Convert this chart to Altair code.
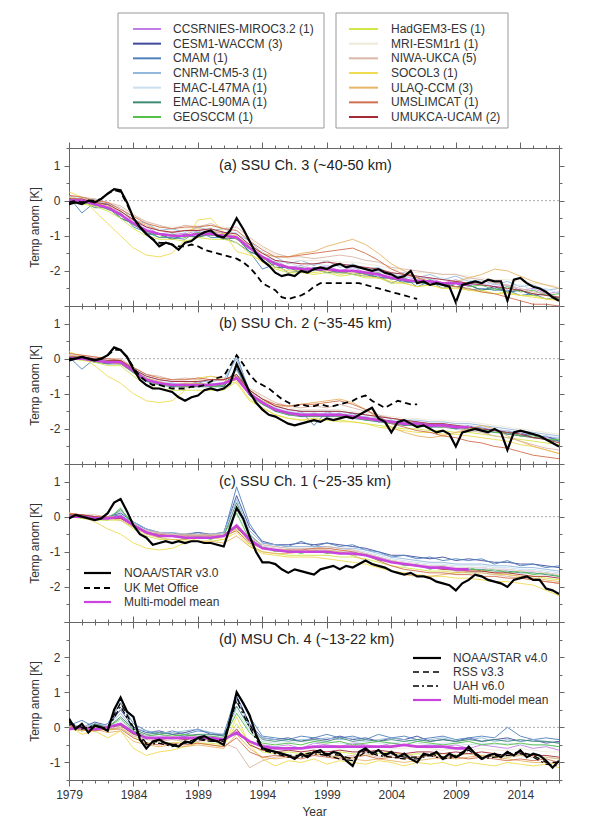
import altair as alt
import pandas as pd

FONT = "Liberation Sans"
AX = "#666666"
TXT = "#333333"

YEARS = list(range(1979, 2018))                 # annual model values
HALF = [1979 + 0.5 * i for i in range(77)]      # semiannual observations 1979.0-2017.0
HALF_UK = HALF[:55]                              # UK Met Office ends 2006
MMM_YEARS = list(range(1979, 2011))              # multi-model mean ends 2010

MODELS = ["CCSRNIES-MIROC3.2", "CESM1-WACCM", "CMAM", "CNRM-CM5-3", "EMAC-L47MA",
          "EMAC-L90MA", "GEOSCCM", "HadGEM3-ES", "MRI-ESM1r1", "NIWA-UKCA",
          "SOCOL3", "ULAQ-CCM", "UMSLIMCAT", "UMUKCA-UCAM"]
MODEL_LABELS = ["CCSRNIES-MIROC3.2 (1)", "CESM1-WACCM (3)", "CMAM (1)", "CNRM-CM5-3 (1)",
                "EMAC-L47MA (1)", "EMAC-L90MA (1)", "GEOSCCM (1)", "HadGEM3-ES (1)",
                "MRI-ESM1r1 (1)", "NIWA-UKCA (5)", "SOCOL3 (1)", "ULAQ-CCM (3)",
                "UMSLIMCAT (1)", "UMUKCA-UCAM (2)"]
COLORS = ["#c27ee6", "#3f4a9c", "#4f82bd", "#93b8dc", "#c9e0f0", "#3f8a74", "#55c04a",
          "#d2e64a", "#eee8d6", "#d9b6a6", "#f0dc50", "#e8b466", "#d0704e", "#a42a36"]
MMM_COLOR = "#c944dc"

# ---------------- (a) SSU Ch. 3 ----------------
A_MODELS = [
    [0.05,-0.05,0.0,-0.2,-0.3,-0.6,-0.75,-0.95,-0.9,-0.95, -0.85,-0.9,-0.9,-1.05,-1.25,-1.6,-1.7,-1.9,-1.85,-1.95, -1.85,-2.0,-1.9,-2.05,-2.0,-2.15,-2.15,-2.25,-2.2,-2.35, -2.25,-2.4,-2.35,-2.45,-2.4,-2.55,-2.5,-2.65,-2.6],
    [0.0,0.05,-0.15,-0.1,-0.5,-0.65,-0.95,-0.95,-1.1,-0.95, -1.05,-0.9,-1.1,-1.05,-1.45,-1.6,-1.9,-1.9,-2.05,-1.9, -2.05,-2.0,-2.0,-2.1,-2.2,-2.2,-2.3,-2.3,-2.4,-2.35, -2.45,-2.4,-2.55,-2.45,-2.6,-2.55,-2.7,-2.65,-2.8],
    [0.1,-0.35,-0.05,-0.25,-0.35,-0.75,-0.9,-1.05,-1.05,-1.1, -0.85,-1.05,-1.05,-1.2,-1.45,-1.95,-1.8,-2.05,-2.0,-1.95, -2.05,-2.05,-2.1,-2.15,-2.15,-2.35,-2.2,-2.45,-2.3,-2.5, -2.35,-2.55,-2.5,-2.55,-2.55,-2.7,-2.65,-2.8,-2.75],
    [0.15,0.0,0.05,-0.1,-0.2,-0.55,-0.65,-0.85,-0.8,-0.9, -0.75,-0.85,-0.8,-0.95,-1.15,-1.5,-1.6,-1.8,-1.7,-1.85, -1.7,-1.9,-1.8,-1.95,-1.9,-2.1,-2.05,-2.2,-2.1,-2.25, -2.15,-2.3,-2.25,-2.4,-2.3,-2.45,-2.4,-2.55,-2.5],
    [0.0,0.1,-0.05,-0.05,-0.35,-0.5,-0.8,-0.8,-0.95,-0.85, -0.9,-0.8,-0.95,-0.9,-1.3,-1.45,-1.75,-1.75,-1.9,-1.8, -1.85,-1.85,-1.95,-1.9,-2.05,-2.05,-2.2,-2.15,-2.25,-2.2, -2.3,-2.25,-2.4,-2.35,-2.45,-2.4,-2.55,-2.5,-2.65],
    [-0.05,0.0,-0.2,-0.2,-0.5,-0.65,-0.95,-0.95,-1.1,-1.0, -1.05,-0.95,-1.1,-1.05,-1.45,-1.6,-1.9,-1.9,-2.05,-1.95, -2.05,-2.0,-2.1,-2.05,-2.2,-2.2,-2.35,-2.3,-2.4,-2.35, -2.45,-2.4,-2.55,-2.5,-2.6,-2.55,-2.7,-2.65,-2.8],
    [0.05,-0.05,-0.1,-0.25,-0.35,-0.7,-0.85,-1.05,-0.95,-1.05, -0.9,-1.0,-0.95,-1.1,-1.3,-1.65,-1.75,-1.95,-1.9,-2.0, -1.9,-2.05,-2.0,-2.1,-2.05,-2.25,-2.2,-2.35,-2.25,-2.4, -2.3,-2.45,-2.4,-2.55,-2.45,-2.6,-2.55,-2.7,-2.65],
    [0.0,-0.1,-0.15,-0.3,-0.5,-0.8,-1.0,-1.1,-1.1,-1.15, -1.05,-1.1,-1.1,-1.2,-1.5,-1.75,-1.95,-2.05,-2.05,-2.1, -2.05,-2.15,-2.1,-2.2,-2.2,-2.35,-2.35,-2.45,-2.4,-2.5, -2.45,-2.55,-2.55,-2.65,-2.6,-2.7,-2.7,-2.8,-2.8],
    [0.1,0.05,0.0,-0.05,-0.2,-0.45,-0.6,-0.75,-0.75,-0.8, -0.7,-0.75,-0.75,-0.85,-1.1,-1.35,-1.55,-1.65,-1.7,-1.7, -1.7,-1.75,-1.75,-1.8,-1.85,-1.95,-2.0,-2.05,-2.05,-2.1, -2.1,-2.15,-2.2,-2.25,-2.25,-2.3,-2.35,-2.4,-2.45],
    [0.15,0.1,0.05,-0.05,-0.15,-0.4,-0.6,-0.7,-0.8,-0.7, -0.75,-0.65,-0.8,-0.75,-1.05,-1.3,-1.5,-1.6,-1.6,-1.65, -1.6,-1.55,-1.6,-1.7,-1.75,-1.9,-1.95,-2.0,-2.05,-2.1, -2.1,-2.2,-2.25,-2.35,-2.4,-2.5,-2.6,-2.65,-2.75],
    [0.25,0.1,-0.3,-0.65,-1.0,-1.35,-1.55,-1.6,-1.5,-1.1, -0.55,-0.5,-0.9,-1.45,-1.55,-1.7,-1.9,-2.0,-2.0,-2.05, -2.0,-2.1,-2.05,-2.15,-2.2,-2.3,-2.35,-2.45,-2.4,-2.5, -2.5,-2.55,-2.6,-2.65,-2.65,-2.7,-2.75,-2.8,-2.85],
    [0.1,0.0,-0.05,-0.15,-0.3,-0.55,-0.7,-0.85,-0.9,-0.85, -0.8,-0.85,-0.95,-1.0,-1.3,-1.5,-1.6,-1.6,-1.5,-1.45, -1.3,-1.2,-1.1,-1.25,-1.5,-1.8,-2.0,-2.2,-2.3,-2.35, -2.3,-2.2,-2.1,-1.95,-2.0,-2.15,-2.3,-2.4,-2.5],
    [0.15,0.1,0.0,-0.05,-0.25,-0.45,-0.65,-0.75,-0.8,-0.75, -0.75,-0.7,-0.8,-0.85,-1.15,-1.4,-1.6,-1.6,-1.55,-1.5, -1.45,-1.4,-1.35,-1.5,-1.7,-1.95,-2.1,-2.2,-2.3,-2.4, -2.45,-2.5,-2.6,-2.65,-2.75,-2.85,-2.95,-2.95,-3.0],
    [0.05,0.05,-0.05,-0.1,-0.3,-0.55,-0.75,-0.85,-0.9,-0.85, -0.85,-0.8,-0.9,-0.95,-1.25,-1.5,-1.7,-1.75,-1.8,-1.8, -1.75,-1.8,-1.85,-1.9,-1.95,-2.05,-2.1,-2.15,-2.2,-2.25, -2.3,-2.35,-2.4,-2.45,-2.5,-2.55,-2.65,-2.7,-2.75],
]
A_MMM = [0.0,0.0,-0.1,-0.2,-0.4,-0.65,-0.85,-0.95,-1.0,-1.0, -0.95,-0.95,-1.0,-1.05,-1.35,-1.6,-1.8,-1.9,-1.95,-1.95, -1.95,-2.0,-2.0,-2.05,-2.1,-2.2,-2.25,-2.3,-2.3,-2.35, -2.35,-2.4]
A_OBS = [-0.1,-0.05,-0.1,0.0,-0.05,0.05,0.2,0.33,0.3,-0.05,
         -0.5,-0.75,-0.95,-1.1,-1.3,-1.2,-1.25,-1.4,-1.2,-1.15,
         -1.0,-0.9,-0.85,-1.0,-1.05,-0.85,-0.5,-0.8,-1.15,-1.5,
         -1.7,-1.85,-2.05,-2.15,-2.1,-2.15,-2.0,-2.05,-1.95,-1.9,
         -1.95,-1.85,-1.8,-1.9,-1.85,-1.9,-1.95,-2.0,-1.95,-2.05,
         -2.1,-2.2,-2.15,-2.0,-2.35,-2.3,-2.4,-2.35,-2.4,-2.45,
         -2.9,-2.4,-2.35,-2.3,-2.35,-2.25,-2.3,-2.3,-2.85,-2.25,
         -2.2,-2.35,-2.45,-2.5,-2.6,-2.75,-2.85]
A_UK = [-0.05,0.0,-0.05,0.0,0.0,0.05,0.2,0.3,0.25,-0.1,
        -0.5,-0.75,-0.95,-1.1,-1.2,-1.2,-1.25,-1.3,-1.3,-1.25,
        -1.3,-1.4,-1.45,-1.5,-1.55,-1.6,-1.65,-1.75,-1.9,-2.1,
        -2.35,-2.45,-2.55,-2.75,-2.8,-2.75,-2.7,-2.6,-2.45,-2.35,
        -2.35,-2.35,-2.35,-2.35,-2.35,-2.35,-2.4,-2.45,-2.5,-2.55,
        -2.6,-2.65,-2.7,-2.75,-2.8]

# ---------------- (b) SSU Ch. 2 ----------------
B_MODELS = [
    [0.05,0.0,0.0,-0.1,-0.05,-0.3,-0.55,-0.7,-0.7,-0.75, -0.7,-0.75,-0.75,-0.55,-0.95,-1.25,-1.4,-1.55,-1.55,-1.6, -1.55,-1.6,-1.6,-1.7,-1.7,-1.8,-1.8,-1.85,-1.85,-1.9, -1.9,-1.95,-1.95,-2.05,-2.05,-2.15,-2.15,-2.25,-2.25],
    [0.0,0.05,-0.1,-0.05,-0.15,-0.35,-0.65,-0.65,-0.8,-0.7, -0.8,-0.7,-0.8,-0.3,-1.05,-1.2,-1.5,-1.5,-1.65,-1.55, -1.65,-1.55,-1.7,-1.65,-1.8,-1.75,-1.9,-1.8,-1.95,-1.85, -2.0,-1.9,-2.05,-2.0,-2.15,-2.1,-2.25,-2.2,-2.35],
    [0.05,-0.3,0.0,-0.15,-0.05,-0.4,-0.55,-0.75,-0.7,-0.8, -0.65,-0.8,-0.75,0.1,-0.95,-1.3,-1.4,-1.6,-1.5,-1.9, -1.5,-1.65,-1.55,-1.75,-1.65,-1.85,-1.75,-1.9,-1.85,-1.95, -1.9,-2.0,-1.95,-2.1,-2.05,-2.2,-2.15,-2.3,-2.25],
    [0.1,0.05,0.0,-0.05,-0.05,-0.3,-0.5,-0.6,-0.65,-0.65, -0.65,-0.65,-0.6,0.0,-0.9,-1.15,-1.35,-1.45,-1.5,-1.5, -1.5,-1.5,-1.55,-1.6,-1.65,-1.7,-1.75,-1.75,-1.8,-1.8, -1.85,-1.85,-1.9,-1.95,-2.0,-2.05,-2.1,-2.15,-2.2],
    [0.05,0.05,-0.05,-0.05,-0.1,-0.3,-0.55,-0.65,-0.7,-0.7, -0.7,-0.7,-0.7,-0.35,-0.95,-1.2,-1.4,-1.5,-1.55,-1.55, -1.55,-1.55,-1.6,-1.65,-1.7,-1.75,-1.8,-1.8,-1.85,-1.85, -1.9,-1.9,-1.95,-2.0,-2.05,-2.1,-2.15,-2.2,-2.25],
    [-0.05,0.0,-0.1,-0.15,-0.15,-0.4,-0.65,-0.75,-0.8,-0.8, -0.8,-0.8,-0.8,-0.25,-1.05,-1.3,-1.5,-1.6,-1.65,-1.65, -1.65,-1.65,-1.7,-1.75,-1.8,-1.85,-1.9,-1.9,-1.95,-1.95, -2.0,-2.0,-2.05,-2.1,-2.15,-2.2,-2.25,-2.3,-2.35],
    [0.0,0.0,-0.05,-0.1,-0.1,-0.4,-0.6,-0.75,-0.75,-0.8, -0.7,-0.8,-0.75,-0.45,-1.0,-1.3,-1.45,-1.6,-1.6,-1.65, -1.6,-1.65,-1.65,-1.75,-1.75,-1.85,-1.85,-1.9,-1.9,-1.95, -1.95,-2.0,-2.0,-2.1,-2.1,-2.2,-2.2,-2.3,-2.3],
    [0.0,-0.05,-0.1,-0.2,-0.2,-0.5,-0.75,-0.85,-0.9,-0.9, -0.9,-0.9,-0.9,-0.65,-1.15,-1.4,-1.6,-1.7,-1.75,-1.75, -1.75,-1.75,-1.8,-1.85,-1.9,-1.95,-2.0,-2.0,-2.05,-2.05, -2.1,-2.1,-2.15,-2.2,-2.25,-2.3,-2.35,-2.4,-2.45],
    [0.1,0.05,0.05,0.0,-0.05,-0.25,-0.45,-0.55,-0.6,-0.6, -0.6,-0.6,-0.6,-0.5,-0.85,-1.1,-1.3,-1.4,-1.45,-1.45, -1.45,-1.45,-1.5,-1.55,-1.6,-1.65,-1.7,-1.7,-1.75,-1.75, -1.8,-1.8,-1.85,-1.9,-1.95,-2.0,-2.05,-2.1,-2.15],
    [0.1,0.1,0.05,0.0,0.0,-0.25,-0.45,-0.5,-0.6,-0.55, -0.6,-0.5,-0.55,-0.6,-0.85,-1.05,-1.25,-1.35,-1.4,-1.35, -1.4,-1.3,-1.4,-1.5,-1.6,-1.7,-1.75,-1.85,-1.85,-1.95, -1.95,-2.05,-2.1,-2.2,-2.25,-2.35,-2.45,-2.55,-2.6],
    [0.2,0.05,-0.2,-0.5,-0.7,-1.0,-1.2,-1.25,-1.2,-0.9, -0.55,-0.5,-0.6,-0.7,-1.2,-1.4,-1.6,-1.7,-1.75,-1.7, -1.75,-1.8,-1.8,-1.85,-1.95,-2.0,-2.05,-2.1,-2.1,-2.15, -2.15,-2.2,-2.25,-2.3,-2.35,-2.45,-2.5,-2.6,-2.7],
    [0.1,0.0,-0.05,-0.1,-0.15,-0.35,-0.55,-0.65,-0.75,-0.7, -0.7,-0.75,-0.7,-0.6,-1.0,-1.2,-1.35,-1.35,-1.3,-1.25, -1.2,-1.15,-1.25,-1.45,-1.7,-1.95,-2.1,-2.2,-2.25,-2.2, -2.1,-2.0,-1.9,-2.0,-2.2,-2.35,-2.5,-2.6,-2.7],
    [0.15,0.1,0.05,0.0,-0.05,-0.25,-0.45,-0.55,-0.6,-0.6, -0.55,-0.6,-0.6,-0.5,-0.9,-1.15,-1.3,-1.35,-1.3,-1.3, -1.25,-1.2,-1.3,-1.45,-1.65,-1.85,-1.95,-2.05,-2.1,-2.2, -2.25,-2.35,-2.4,-2.5,-2.55,-2.65,-2.75,-2.8,-2.85],
    [0.05,0.05,0.0,-0.05,-0.05,-0.3,-0.5,-0.6,-0.65,-0.65, -0.65,-0.6,-0.6,-0.45,-0.9,-1.15,-1.35,-1.45,-1.5,-1.5, -1.5,-1.5,-1.55,-1.6,-1.65,-1.7,-1.75,-1.8,-1.85,-1.85, -1.9,-1.95,-2.0,-2.05,-2.1,-2.15,-2.25,-2.3,-2.4],
]
B_MMM = [0.0,0.0,-0.05,-0.1,-0.1,-0.35,-0.6,-0.7,-0.75,-0.75, -0.75,-0.75,-0.7,-0.55,-1.0,-1.25,-1.45,-1.55,-1.6,-1.6, -1.6,-1.6,-1.65,-1.7,-1.75,-1.8,-1.85,-1.85,-1.9,-1.9, -1.95,-1.95]
B_OBS = [-0.05,0.0,0.05,0.0,-0.05,0.0,0.1,0.32,0.25,0.05,
         -0.3,-0.6,-0.75,-0.85,-0.85,-0.9,-0.95,-1.1,-1.2,-1.1,
         -1.05,-0.9,-0.85,-0.9,-0.85,-0.7,-0.15,-0.55,-0.95,-1.25,
         -1.45,-1.6,-1.65,-1.75,-1.85,-1.9,-1.85,-1.8,-1.75,-1.8,
         -1.7,-1.75,-1.7,-1.65,-1.7,-1.6,-1.5,-1.4,-1.7,-1.8,
         -2.1,-1.8,-1.75,-1.85,-1.95,-1.9,-2.0,-2.1,-2.05,-2.15,
         -2.5,-2.1,-2.05,-2.0,-2.05,-2.1,-2.0,-2.1,-2.6,-2.1,
         -2.05,-2.1,-2.15,-2.2,-2.3,-2.4,-2.5]
B_UK = [0.0,0.0,0.05,0.0,-0.05,0.0,0.1,0.25,0.25,0.05,
        -0.25,-0.5,-0.65,-0.75,-0.75,-0.8,-0.85,-0.85,-0.85,-0.8,
        -0.8,-0.75,-0.65,-0.55,-0.5,-0.2,0.1,-0.15,-0.45,-0.65,
        -0.75,-0.85,-1.0,-1.15,-1.25,-1.35,-1.3,-1.35,-1.35,-1.3,
        -1.35,-1.35,-1.3,-1.25,-1.2,-1.1,-1.05,-1.2,-1.3,-1.4,
        -1.3,-1.2,-1.25,-1.3,-1.3]

# ---------------- (c) SSU Ch. 1 ----------------
C_MODELS = [
    [0.05,0.0,0.0,-0.05,0.0,-0.2,-0.4,-0.5,-0.55,-0.55, -0.55,-0.55,-0.5,-0.25,-0.65,-0.85,-0.9,-0.95,-0.95,-0.95, -0.95,-1.0,-1.0,-1.05,-1.15,-1.25,-1.3,-1.35,-1.4,-1.4, -1.45,-1.45,-1.45,-1.5,-1.5,-1.55,-1.55,-1.6,-1.65],
    [0.05,0.05,0.0,0.0,0.1,-0.15,-0.35,-0.45,-0.5,-0.5, -0.45,-0.5,-0.45,0.6,-0.3,-0.7,-0.8,-0.8,-0.75,-0.8, -0.75,-0.8,-0.85,-0.9,-1.0,-1.1,-1.1,-1.15,-1.2,-1.15, -1.25,-1.2,-1.25,-1.3,-1.3,-1.35,-1.35,-1.4,-1.45],
    [0.0,0.05,-0.05,0.0,0.05,-0.2,-0.35,-0.5,-0.45,-0.55, -0.45,-0.55,-0.5,0.85,-0.2,-0.75,-0.8,-0.85,-0.7,-0.85, -0.75,-0.85,-0.8,-0.95,-1.0,-1.15,-1.1,-1.2,-1.15,-1.25, -1.2,-1.25,-1.2,-1.35,-1.25,-1.4,-1.35,-1.45,-1.4],
    [0.05,0.0,0.0,0.0,0.15,-0.15,-0.35,-0.45,-0.45,-0.5, -0.5,-0.5,-0.45,0.5,-0.4,-0.75,-0.8,-0.85,-0.85,-0.85, -0.85,-0.9,-0.9,-0.95,-1.05,-1.15,-1.2,-1.25,-1.3,-1.3, -1.35,-1.35,-1.35,-1.4,-1.4,-1.45,-1.45,-1.5,-1.55],
    [0.0,0.05,0.0,0.0,0.0,-0.2,-0.4,-0.5,-0.5,-0.55, -0.55,-0.55,-0.5,0.2,-0.55,-0.8,-0.85,-0.9,-0.9,-0.9, -0.9,-0.95,-0.95,-1.0,-1.1,-1.2,-1.25,-1.3,-1.35,-1.35, -1.4,-1.4,-1.4,-1.45,-1.45,-1.5,-1.5,-1.55,-1.6],
    [0.0,0.0,-0.05,-0.05,0.2,-0.2,-0.45,-0.55,-0.55,-0.6, -0.6,-0.6,-0.55,0.4,-0.5,-0.85,-0.95,-1.0,-1.0,-1.0, -1.0,-1.05,-1.05,-1.1,-1.2,-1.3,-1.35,-1.4,-1.45,-1.45, -1.5,-1.5,-1.5,-1.55,-1.55,-1.6,-1.6,-1.65,-1.7],
    [0.05,-0.05,-0.05,-0.1,0.25,-0.3,-0.4,-0.6,-0.5,-0.65, -0.55,-0.65,-0.5,0.1,-0.65,-0.85,-1.0,-0.95,-1.05,-0.95, -1.05,-1.0,-1.1,-1.05,-1.25,-1.25,-1.4,-1.35,-1.5,-1.4, -1.55,-1.45,-1.55,-1.5,-1.6,-1.55,-1.65,-1.6,-1.7],
    [0.0,-0.05,-0.1,-0.1,-0.1,-0.35,-0.55,-0.65,-0.65,-0.7, -0.7,-0.7,-0.65,-0.35,-0.8,-1.0,-1.05,-1.1,-1.1,-1.1, -1.1,-1.15,-1.15,-1.2,-1.3,-1.4,-1.45,-1.5,-1.55,-1.55, -1.6,-1.6,-1.6,-1.65,-1.65,-1.7,-1.7,-1.75,-1.8],
    [0.1,0.05,0.0,0.0,0.0,-0.2,-0.4,-0.5,-0.5,-0.55, -0.55,-0.55,-0.5,-0.3,-0.65,-0.85,-0.9,-0.95,-0.95,-0.95, -0.95,-1.0,-1.0,-1.05,-1.15,-1.25,-1.3,-1.35,-1.4,-1.4, -1.45,-1.45,-1.45,-1.5,-1.5,-1.55,-1.55,-1.6,-1.65],
    [0.1,0.05,0.05,0.0,0.0,-0.2,-0.4,-0.45,-0.5,-0.5, -0.5,-0.5,-0.5,-0.35,-0.6,-0.8,-0.85,-0.9,-0.9,-0.9, -0.85,-0.9,-0.95,-1.05,-1.15,-1.25,-1.35,-1.4,-1.45,-1.5, -1.55,-1.6,-1.6,-1.65,-1.7,-1.75,-1.8,-1.85,-1.9],
    [0.1,0.0,-0.15,-0.35,-0.5,-0.75,-0.9,-0.95,-0.9,-0.75, -0.6,-0.6,-0.65,-0.45,-0.85,-1.05,-1.1,-1.15,-1.15,-1.15, -1.2,-1.25,-1.3,-1.35,-1.45,-1.55,-1.6,-1.65,-1.7,-1.7, -1.75,-1.75,-1.8,-1.85,-1.85,-1.9,-1.95,-2.1,-2.25],
    [0.05,0.0,-0.05,-0.05,-0.1,-0.3,-0.5,-0.6,-0.65,-0.65, -0.7,-0.7,-0.75,-0.55,-0.85,-1.0,-1.05,-1.05,-1.0,-0.95, -0.95,-1.0,-1.1,-1.25,-1.4,-1.55,-1.65,-1.7,-1.7,-1.65, -1.6,-1.55,-1.55,-1.6,-1.65,-1.7,-1.75,-1.8,-1.85],
    [0.1,0.05,0.0,0.0,-0.05,-0.25,-0.45,-0.5,-0.55,-0.55, -0.55,-0.55,-0.55,-0.4,-0.75,-0.9,-0.95,-0.95,-0.95,-0.9, -0.9,-0.95,-1.0,-1.1,-1.25,-1.4,-1.5,-1.55,-1.6,-1.6, -1.65,-1.65,-1.7,-1.7,-1.75,-1.75,-1.8,-1.85,-1.9],
    [0.05,0.05,0.0,-0.05,-0.05,-0.25,-0.45,-0.55,-0.55,-0.6, -0.6,-0.6,-0.55,-0.3,-0.7,-0.9,-0.95,-1.0,-1.0,-1.0, -1.0,-1.05,-1.05,-1.1,-1.2,-1.3,-1.35,-1.4,-1.45,-1.5, -1.5,-1.55,-1.55,-1.6,-1.6,-1.65,-1.7,-1.7,-1.75],
]
C_MMM = [0.0,0.0,-0.05,-0.05,0.0,-0.25,-0.45,-0.55,-0.55,-0.6, -0.6,-0.6,-0.55,-0.25,-0.65,-0.9,-0.95,-1.0,-1.0,-1.0, -1.0,-1.05,-1.05,-1.1,-1.2,-1.3,-1.35,-1.4,-1.45,-1.45, -1.5,-1.5]
C_OBS = [-0.05,0.05,0.0,-0.05,-0.1,-0.05,0.1,0.4,0.5,0.15,
         -0.25,-0.5,-0.6,-0.8,-0.75,-0.7,-0.75,-0.7,-0.75,-0.7,
         -0.7,-0.75,-0.75,-0.8,-0.85,-0.3,0.25,-0.05,-0.55,-1.0,
         -1.3,-1.3,-1.35,-1.5,-1.6,-1.5,-1.55,-1.6,-1.65,-1.5,
         -1.45,-1.4,-1.5,-1.4,-1.45,-1.35,-1.25,-1.35,-1.4,-1.45,
         -1.55,-1.6,-1.65,-1.6,-1.7,-1.7,-1.75,-1.85,-1.9,-1.95,
         -2.1,-1.9,-1.8,-1.65,-1.7,-1.8,-1.85,-1.9,-2.0,-1.8,
         -1.75,-1.7,-1.8,-1.8,-2.05,-2.1,-2.2]

# ---------------- (d) MSU Ch. 4 ----------------
D_MODELS = [
    [0.0,0.05,-0.1,0.05,0.1,-0.1,-0.25,-0.2,-0.3,-0.25, -0.2,-0.3,-0.3,-0.2,-0.4,-0.5,-0.55,-0.5,-0.6,-0.45, -0.5,-0.55,-0.45,-0.5,-0.55,-0.45,-0.5,-0.55,-0.5,-0.55, -0.5,-0.6,-0.5,-0.55,-0.6,-0.5,-0.6,-0.55,-0.65],
    [0.1,0.0,0.15,0.05,0.5,0.0,-0.15,-0.1,-0.2,-0.15, -0.05,-0.2,-0.2,0.9,0.1,-0.3,-0.35,-0.3,-0.4,-0.3, -0.35,-0.25,-0.35,-0.3,-0.4,-0.3,-0.35,-0.25,-0.4,-0.35, -0.4,-0.3,-0.4,-0.35,-0.3,-0.4,-0.35,-0.45,-0.4],
    [0.05,0.2,0.0,0.1,0.7,0.1,-0.1,-0.2,-0.1,-0.2, -0.1,-0.15,-0.25,1.0,0.3,-0.25,-0.3,-0.35,-0.25,-0.3, -0.2,-0.3,-0.25,-0.35,-0.2,-0.3,-0.25,-0.35,-0.3,-0.25, -0.35,-0.3,-0.25,-0.3,0.0,-0.25,-0.35,-0.3,-0.35],
    [0.1,0.0,0.1,0.05,0.4,-0.05,-0.1,-0.15,-0.15,-0.1, -0.05,-0.15,-0.2,0.8,0.05,-0.3,-0.35,-0.4,-0.35,-0.35, -0.3,-0.35,-0.3,-0.4,-0.35,-0.3,-0.35,-0.4,-0.35,-0.3, -0.4,-0.35,-0.3,-0.4,-0.35,-0.4,-0.35,-0.4,-0.45],
    [0.0,0.05,0.0,0.0,0.2,-0.1,-0.2,-0.25,-0.25,-0.2, -0.25,-0.25,-0.3,0.5,-0.1,-0.4,-0.45,-0.45,-0.4,-0.45, -0.4,-0.45,-0.45,-0.4,-0.45,-0.45,-0.4,-0.45,-0.5,-0.45, -0.45,-0.5,-0.45,-0.5,-0.45,-0.5,-0.5,-0.5,-0.55],
    [0.05,-0.1,0.1,0.0,0.3,-0.05,-0.2,-0.15,-0.2,-0.25, -0.2,-0.2,-0.25,0.6,0.0,-0.35,-0.4,-0.35,-0.4,-0.35, -0.4,-0.3,-0.4,-0.35,-0.4,-0.35,-0.4,-0.35,-0.4,-0.35, -0.4,-0.35,-0.4,-0.35,-0.4,-0.35,-0.4,-0.4,-0.45],
    [0.0,-0.05,0.05,0.0,0.25,-0.1,-0.25,-0.2,-0.25,-0.2, -0.25,-0.25,-0.3,0.4,-0.15,-0.45,-0.5,-0.45,-0.5,-0.4, -0.45,-0.4,-0.5,-0.45,-0.4,-0.45,-0.5,-0.4,-0.45,-0.5, -0.45,-0.4,-0.5,-0.45,-0.5,-0.45,-0.5,-0.5,-0.55],
    [-0.05,-0.1,0.0,-0.1,0.0,-0.3,-0.45,-0.4,-0.45,-0.4, -0.45,-0.45,-0.5,0.1,-0.45,-0.7,-0.75,-0.7,-0.75,-0.7, -0.75,-0.7,-0.75,-0.8,-0.75,-0.7,-0.8,-0.75,-0.8,-0.75, -0.8,-0.75,-0.8,-0.8,-0.85,-0.8,-0.85,-0.85,-0.9],
    [0.0,0.05,0.0,0.05,0.1,-0.15,-0.25,-0.3,-0.25,-0.3, -0.25,-0.3,-0.3,-0.1,-0.4,-0.55,-0.6,-0.55,-0.6,-0.6, -0.55,-0.6,-0.55,-0.6,-0.55,-0.6,-0.6,-0.55,-0.6,-0.65, -0.6,-0.65,-0.6,-0.65,-0.65,-0.6,-0.65,-0.7,-0.7],
    [0.0,-0.1,-0.05,-0.05,0.0,-0.25,-0.35,-0.4,-0.35,-0.4, -0.4,-0.35,-0.45,-0.6,-1.15,-0.95,-0.85,-0.8,-0.85,-0.75, -0.8,-0.85,-0.8,-0.75,-0.85,-0.8,-0.75,-0.85,-0.8,-0.85, -0.8,-0.75,-0.85,-0.8,-0.85,-0.8,-0.85,-0.85,-0.9],
    [0.05,-0.2,-0.1,-0.3,-0.1,-0.6,-0.8,-0.7,-0.65,-0.55, -0.45,-0.5,-0.55,0.3,-0.5,-0.9,-1.1,-0.95,-1.0,-0.9, -1.05,-0.95,-1.0,-1.05,-0.95,-1.0,-1.1,-1.0,-1.05,-1.0, -1.1,-1.0,-1.05,-1.1,-1.0,-1.05,-1.1,-1.05,-1.15],
    [0.0,-0.1,-0.05,-0.15,-0.1,-0.4,-0.5,-0.55,-0.5,-0.55, -0.5,-0.55,-0.6,-0.2,-0.6,-0.85,-0.9,-0.85,-0.8,-0.75, -0.8,-0.85,-0.9,-0.95,-0.9,-0.95,-1.0,-0.95,-0.9,-0.85, -0.9,-0.85,-0.8,-0.85,-0.9,-0.95,-1.0,-1.0,-1.05],
    [0.0,-0.05,-0.1,-0.05,-0.05,-0.3,-0.45,-0.5,-0.45,-0.5, -0.45,-0.5,-0.55,-0.3,-0.7,-0.85,-0.8,-0.85,-0.9,-0.8, -0.85,-0.9,-0.85,-0.8,-0.9,-0.85,-0.9,-0.85,-0.8,-0.9, -0.85,-0.9,-0.85,-0.9,-0.95,-0.9,-0.95,-0.9,-1.0],
    [0.05,0.0,-0.05,0.0,0.05,-0.2,-0.3,-0.35,-0.3,-0.35, -0.3,-0.35,-0.4,-0.05,-0.5,-0.65,-0.7,-0.65,-0.7,-0.65, -0.7,-0.65,-0.7,-0.7,-0.65,-0.7,-0.75,-0.7,-0.7,-0.75, -0.7,-0.75,-0.7,-0.75,-0.8,-0.75,-0.8,-0.8,-0.85],
]
D_MMM = [-0.05,0.0,-0.05,0.0,0.1,-0.15,-0.3,-0.3,-0.3,-0.3, -0.3,-0.3,-0.35,-0.15,-0.4,-0.55,-0.6,-0.6,-0.6,-0.55, -0.55,-0.55,-0.55,-0.55,-0.55,-0.55,-0.5,-0.55,-0.55,-0.55, -0.6,-0.6]
D_OBS = [0.25,-0.05,0.1,-0.15,0.05,0.0,-0.1,0.5,0.85,0.45,
         0.3,-0.35,-0.6,-0.4,-0.35,-0.45,-0.5,-0.55,-0.4,-0.45,
         -0.3,-0.25,-0.35,-0.4,-0.5,0.2,1.0,0.7,0.35,-0.2,
         -0.6,-0.65,-0.7,-0.75,-0.8,-0.9,-0.75,-0.85,-0.7,-0.65,
         -0.8,-0.7,-0.75,-0.95,-1.1,-0.7,-0.6,-0.75,-0.65,-0.8,
         -0.7,-0.85,-0.75,-0.9,-1.0,-0.75,-0.8,-0.7,-0.9,-0.75,
         -0.85,-0.75,-0.55,-0.75,-0.9,-0.8,-0.75,-0.85,-0.7,-0.8,
         -0.65,-0.85,-0.75,-0.8,-0.95,-1.15,-0.95]
D_RSS = [0.1,0.0,0.0,0.0,0.7,0.0,-0.45,-0.4,-0.5,-0.45, -0.3,-0.4,-0.35,0.85,0.1,-0.6,-0.7,-0.8,-0.8,-0.7, -0.75,-0.8,-0.9,-0.65,-0.75,-0.75,-0.85,-0.85,-0.75,-0.85, -0.8,-0.6,-0.85,-0.8,-0.75,-0.7,-0.8,-1.0,-1.0]
D_UAH = [0.15,-0.05,0.05,-0.05,0.6,-0.05,-0.5,-0.45,-0.55,-0.45, -0.35,-0.4,-0.4,0.75,0.0,-0.65,-0.75,-0.85,-0.85,-0.75, -0.8,-0.9,-0.95,-0.7,-0.8,-0.85,-0.9,-0.9,-0.8,-0.9, -0.85,-0.65,-0.9,-0.85,-0.8,-0.75,-0.85,-1.05,-1.1]

TITLES = ["(a) SSU Ch. 3 (~40-50 km)", "(b) SSU Ch. 2 (~35-45 km)",
          "(c) SSU Ch. 1 (~25-35 km)", "(d) MSU Ch. 4 (~13-22 km)"]
LEGEND_C = ["NOAA/STAR v3.0", "UK Met Office", "Multi-model mean"]
LEGEND_D = ["NOAA/STAR v4.0", "RSS v3.3", "UAH v6.0", "Multi-model mean"]

for arr in (A_MODELS, B_MODELS, C_MODELS, D_MODELS):
    assert len(arr) == 14 and all(len(v) == 39 for v in arr), [len(v) for v in arr]
for s in (A_OBS, B_OBS, C_OBS, D_OBS):
    assert len(s) == 77, len(s)
for s in (A_UK, B_UK):
    assert len(s) == 55, len(s)
for s in (A_MMM, B_MMM, C_MMM, D_MMM):
    assert len(s) == 32, len(s)

W, H = 490, 158
XSCALE = alt.Scale(domain=[1979, 2017], nice=False, zero=False)
CSCALE = alt.Scale(domain=MODELS, range=COLORS)
ONE = pd.DataFrame({"k": [0]})


def x_axis(orient, show):
    kw = dict(orient=orient, values=YEARS, grid=False, domain=False, tickColor=AX,
              tickSize={"condition": {"test": "datum.value % 5 == 4", "value": 6}, "value": 3},
              labels=show, title="Year" if show else None)
    if show:
        kw.update(labelExpr="datum.value % 5 == 4 ? '' + datum.value : ''", labelFlush=False,
                  labelFont=FONT, labelFontSize=12, labelColor=TXT, labelPadding=3,
                  titleFont=FONT, titleFontSize=12, titleFontWeight="normal",
                  titleColor=TXT, titlePadding=6)
    return alt.Axis(**kw)


def y_axis(orient, yvals, labels):
    kw = dict(orient=orient, values=yvals, grid=False, domain=False, tickColor=AX,
              tickSize={"condition": {"test": "datum.value % 1 == 0", "value": 5}, "value": 3})
    if labels is None:
        kw.update(labels=False, title=None)
    else:
        expr = "indexof([%s], datum.value) >= 0 ? '' + datum.value : ''" % ",".join(str(v) for v in labels)
        kw.update(labelExpr=expr, labelFlush=False, labelFont=FONT, labelFontSize=12,
                  labelColor=TXT, labelPadding=4, title="Temp anom [K]", titleFont=FONT,
                  titleFontSize=12, titleFontWeight="normal", titleColor=TXT, titlePadding=8)
    return alt.Axis(**kw)


def model_frame(values):
    rows = []
    for name, vals in zip(MODELS, values):
        for yr, v in zip(YEARS, vals):
            rows.append((name, yr, v))
    return pd.DataFrame(rows, columns=["model", "year", "value"])


def line(xs, vs, ysc, **mk):
    return alt.Chart(pd.DataFrame({"year": xs, "value": vs})).mark_line(clip=True, **mk).encode(
        x=alt.X("year:Q", scale=XSCALE, axis=None),
        y=alt.Y("value:Q", scale=ysc, axis=None))


def legend_entries(labels, styles, x0, x1, xt, rows):
    layers = []
    for lab, st, yy in zip(labels, styles, rows):
        layers.append(alt.Chart(ONE).mark_rule(**st).encode(
            x=alt.value(x0), x2=alt.value(x1), y=alt.value(yy)))
        layers.append(alt.Chart(ONE).mark_text(align="left", baseline="middle", font=FONT,
                                               fontSize=12, color=TXT).encode(
            x=alt.value(xt), y=alt.value(yy), text=alt.value(lab)))
    return layers


def panel(models, obs, mmm, title, ydom, ylabels, uk=None, extra=(), legend=(), bottom=False):
    n = int(round((ydom[1] - ydom[0]) / 0.5))
    yvals = [ydom[0] + 0.5 * i for i in range(n + 1)]
    ysc = alt.Scale(domain=ydom, nice=False, zero=False)
    zero = alt.Chart(pd.DataFrame({"v": [0]})).mark_rule(
        color="#aaaaaa", strokeDash=[2, 2], strokeWidth=1).encode(y=alt.Y("v:Q", scale=ysc, axis=None))
    spag = alt.Chart(model_frame(models)).mark_line(strokeWidth=1, opacity=0.9, clip=True).encode(
        x=alt.X("year:Q", scale=XSCALE, axis=x_axis("bottom", bottom)),
        y=alt.Y("value:Q", scale=ysc, axis=y_axis("left", yvals, ylabels)),
        color=alt.Color("model:N", scale=CSCALE, legend=None))
    mm = alt.Chart(pd.DataFrame({"year": MMM_YEARS, "value": mmm})).mark_line(
        color=MMM_COLOR, strokeWidth=2.6, clip=True).encode(
        x=alt.X("year:Q", scale=XSCALE, axis=x_axis("top", False)),
        y=alt.Y("value:Q", scale=ysc, axis=y_axis("right", yvals, None)))
    layers = [zero, spag, mm]
    if uk is not None:
        layers.append(line(HALF_UK, uk, ysc, color="black", strokeWidth=1.8, strokeDash=[6, 4]))
    for xs, vs, mk in extra:
        layers.append(line(xs, vs, ysc, **mk))
    layers.append(line(HALF, obs, ysc, color="black", strokeWidth=2.2))
    layers.append(alt.Chart(ONE).mark_text(font=FONT, fontSize=14.5, color="#222222",
                                           align="left", baseline="middle").encode(
        x=alt.value(150), y=alt.value(18), text=alt.value(title)))
    layers.extend(legend)
    return alt.layer(*layers).resolve_axis(x="independent", y="independent").properties(
        width=W, height=H, view=alt.ViewBackground(stroke=AX, strokeWidth=1))


# ---------------- top legend ----------------
leg_df = pd.DataFrame({"model": MODELS, "label": MODEL_LABELS,
                       "row": [i % 7 for i in range(14)], "grp": [i // 7 for i in range(14)]})
LEG_Y = alt.Scale(domain=[0, 6], range=[16, 104])
top_layers = []
for x0, x1 in ((49, 255), (267, 439)):
    top_layers.append(alt.Chart(ONE).mark_rect(fill="white", stroke="#999999", strokeWidth=1).encode(
        x=alt.value(x0), x2=alt.value(x1), y=alt.value(0), y2=alt.value(115)))
for g, (lx0, lx1, tx) in enumerate(((64, 92, 104), (280, 309, 322))):
    sub = alt.Chart(leg_df).transform_filter("datum.grp == %d" % g)
    top_layers.append(sub.mark_rule(strokeWidth=2).encode(
        x=alt.value(lx0), x2=alt.value(lx1),
        y=alt.Y("row:Q", scale=LEG_Y, axis=None),
        color=alt.Color("model:N", scale=CSCALE, legend=None)))
    top_layers.append(sub.mark_text(align="left", baseline="middle", font=FONT, fontSize=12,
                                    color=TXT).encode(
        x=alt.value(tx), y=alt.Y("row:Q", scale=LEG_Y, axis=None), text="label:N"))
top = alt.layer(*top_layers).properties(width=W, height=135,
                                        view=alt.ViewBackground(strokeOpacity=0))

leg_c = legend_entries(LEGEND_C,
                       [dict(color="black", strokeWidth=2.2),
                        dict(color="black", strokeWidth=1.8, strokeDash=[6, 4]),
                        dict(color=MMM_COLOR, strokeWidth=2.2)],
                       15, 42, 55, [109, 124, 138])
leg_d = legend_entries(LEGEND_D,
                       [dict(color="black", strokeWidth=2.2),
                        dict(color="black", strokeWidth=1.5, strokeDash=[6, 4]),
                        dict(color="black", strokeWidth=1.5, strokeDash=[6, 3, 2, 3]),
                        dict(color=MMM_COLOR, strokeWidth=2.2)],
                       344, 372, 384, [36, 50, 64, 78])

pa = panel(A_MODELS, A_OBS, A_MMM, TITLES[0], [-3, 1.5], [1, 0, -1, -2], uk=A_UK)
pb = panel(B_MODELS, B_OBS, B_MMM, TITLES[1], [-3, 1.5], [1, 0, -1, -2], uk=B_UK)
pc = panel(C_MODELS, C_OBS, C_MMM, TITLES[2], [-3, 1.5], [1, 0, -1, -2], legend=leg_c)
pd_ = panel(D_MODELS, D_OBS, D_MMM, TITLES[3], [-1.5, 3], [2, 1, 0, -1],
            extra=[(YEARS, D_RSS, dict(color="black", strokeWidth=1.3, strokeDash=[6, 4])),
                   (YEARS, D_UAH, dict(color="black", strokeWidth=1.3, strokeDash=[6, 3, 2, 3]))],
            legend=leg_d, bottom=True)

chart = alt.vconcat(top, pa, pb, pc, pd_, spacing=0, bounds="flush").properties(
    padding={"left": 27, "top": 12, "right": 5, "bottom": 5}
).configure(font=FONT).configure_view(stroke=AX)

chart.save("out.html", embed_options={"renderer": "svg", "actions": False})
